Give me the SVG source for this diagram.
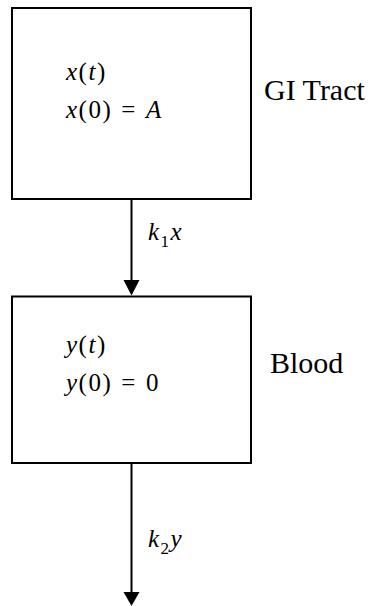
<svg xmlns="http://www.w3.org/2000/svg" width="375" height="606" viewBox="0 0 375 606">
<defs>
<style>
.box{fill:#fff;stroke:#000;stroke-width:2}
.ln{stroke:#000;stroke-width:2;fill:none}
.m{font-family:"Liberation Serif", serif;font-size:25px;fill:#000;letter-spacing:1.5px}
.i{font-style:italic}
.lbl{font-family:"Liberation Serif", serif;font-size:30px;fill:#000}
.sub{font-size:17px;font-style:normal}
</style>
</defs>
<rect width="375" height="606" fill="#fff"/>
<g id="gi">
<rect class="box" x="12" y="8" width="239" height="191"/>
<text class="m" x="66" y="80"><tspan class="i">x</tspan>(<tspan class="i">t</tspan>)</text>
<text class="m" x="66" y="118"><tspan class="i">x</tspan>(0)<tspan dx="9">=</tspan><tspan class="i" dx="9">A</tspan></text>
<text class="lbl" x="264" y="100">GI Tract</text>
</g>
<g id="blood">
<rect class="box" x="12" y="296.5" width="239" height="166.5"/>
<text class="m" x="66" y="353"><tspan class="i">y</tspan>(<tspan class="i">t</tspan>)</text>
<text class="m" x="66" y="391"><tspan class="i">y</tspan>(0)<tspan dx="9">=</tspan><tspan dx="9">0</tspan></text>
<text class="lbl" x="270" y="373">Blood</text>
</g>
<g id="connectors">
<line class="ln" x1="131.5" y1="199" x2="131.5" y2="282"/>
<path d="M123.5,280 L139.5,280 L131.5,295.5 Z" fill="#000"/>
<line class="ln" x1="131.5" y1="463" x2="131.5" y2="595"/>
<path d="M123.5,592 L139.5,592 L131.5,606 Z" fill="#000"/>
<text class="m" x="148" y="240"><tspan class="i">k</tspan><tspan class="sub" dy="7">1</tspan><tspan class="i" dy="-7">x</tspan></text>
<text class="m" x="148" y="547"><tspan class="i">k</tspan><tspan class="sub" dy="7">2</tspan><tspan class="i" dy="-7">y</tspan></text>
</g>
</svg>
